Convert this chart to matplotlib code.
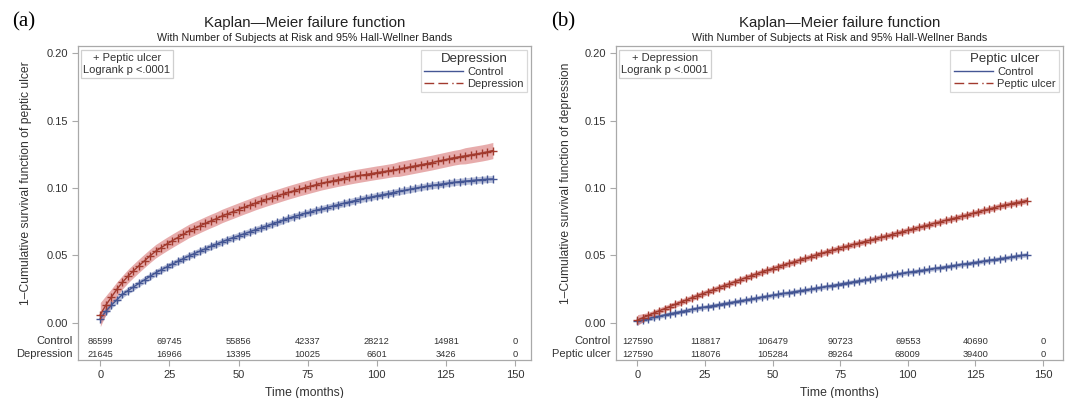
import numpy as np
import matplotlib
matplotlib.use("Agg")
import matplotlib.pyplot as plt
from matplotlib.lines import Line2D
import matplotlib.transforms as mtransforms

plt.rcParams['font.family'] = ['Liberation Sans', 'DejaVu Sans']

# ---------------- data ----------------
t_a = np.arange(0, 143, 2)
a_control = [0.003, 0.0085, 0.013, 0.017, 0.021, 0.0238, 0.0265, 0.0292, 0.0318, 0.0344,
             0.037, 0.0392, 0.0413, 0.0434, 0.0455, 0.0475, 0.0495, 0.0513, 0.0531, 0.0549,
             0.0566, 0.0583, 0.0600, 0.0617, 0.0631, 0.0645, 0.066, 0.0674, 0.0689, 0.0703,
             0.0717, 0.0731, 0.0745, 0.0759, 0.0775, 0.0788, 0.0799, 0.0811, 0.0822, 0.0834,
             0.0845, 0.0855, 0.0865, 0.0876, 0.0886, 0.0896, 0.0906, 0.0916, 0.0925, 0.0933,
             0.0942, 0.095, 0.0958, 0.0966, 0.0974, 0.0982, 0.099, 0.0998, 0.1006, 0.1013,
             0.1019, 0.1025, 0.1031, 0.1037, 0.1042, 0.1047, 0.1051, 0.1055, 0.1059, 0.1062,
             0.1065, 0.1067]
a_depression = [0.006, 0.013, 0.019, 0.0248, 0.030, 0.0345, 0.0385, 0.0423, 0.046, 0.0496,
                0.053, 0.0557, 0.0583, 0.0608, 0.0632, 0.0656, 0.068, 0.0699, 0.0718, 0.0737,
                0.0755, 0.0772, 0.0792, 0.0808, 0.0824, 0.084, 0.0856, 0.0871, 0.0887, 0.0901,
                0.0915, 0.0928, 0.0941, 0.0954, 0.0967, 0.0979, 0.0991, 0.1002, 0.1013, 0.1024,
                0.1035, 0.1044, 0.1053, 0.1062, 0.107, 0.1078, 0.1086, 0.1093, 0.11, 0.1107,
                0.1114, 0.112, 0.1127, 0.1134, 0.1141, 0.1149, 0.1157, 0.1165, 0.1173, 0.1181,
                0.1189, 0.1198, 0.1207, 0.1216, 0.1225, 0.1232, 0.1239, 0.1246, 0.1253, 0.126,
                0.1268, 0.1278]
a_control_hw = [0.0035, 0.003] + [0.0025] * 70
a_depression_hw = [0.009, 0.007, 0.006, 0.0055] + [0.005] * 50 + [0.0055] * 12 + [0.006] * 6

t_b = np.arange(0, 145, 2)
b_control = [0.001, 0.002, 0.003, 0.0039, 0.0048, 0.0057, 0.0066, 0.0074, 0.0082, 0.009,
             0.0098, 0.0106, 0.0113, 0.012, 0.0127, 0.0134, 0.0141, 0.0148, 0.0155, 0.0162,
             0.0169, 0.0176, 0.0183, 0.019, 0.0197, 0.0204, 0.021, 0.0217, 0.0223, 0.023,
             0.0236, 0.0243, 0.0249, 0.0256, 0.0262, 0.0269, 0.0276, 0.0283, 0.029, 0.0297,
             0.0304, 0.0311, 0.0318, 0.0325, 0.0332, 0.0339, 0.0346, 0.0353, 0.036, 0.0367,
             0.0373, 0.0379, 0.0385, 0.0391, 0.0397, 0.0403, 0.0409, 0.0415, 0.0421, 0.0427,
             0.0433, 0.0439, 0.0445, 0.0451, 0.0457, 0.0463, 0.0469, 0.0475, 0.0481, 0.0487,
             0.0493, 0.0499, 0.0505]
b_peptic = [0.002, 0.0037, 0.0054, 0.0071, 0.0088, 0.0104, 0.0120, 0.0136, 0.0152, 0.0168,
            0.0184, 0.0199, 0.0214, 0.0229, 0.0244, 0.0259, 0.0274, 0.0289, 0.0304, 0.0319,
            0.0334, 0.0348, 0.0362, 0.0376, 0.0390, 0.0402, 0.0415, 0.0427, 0.044, 0.0452,
            0.0465, 0.0477, 0.049, 0.0502, 0.0514, 0.0526, 0.0538, 0.055, 0.0560, 0.0571,
            0.0581, 0.0592, 0.0602, 0.0612, 0.0623, 0.0633, 0.0644, 0.0654, 0.0665, 0.0675,
            0.0686, 0.0697, 0.0707, 0.0718, 0.0728, 0.0739, 0.0749, 0.0760, 0.0770, 0.0780,
            0.0790, 0.0800, 0.0811, 0.0822, 0.0833, 0.0843, 0.0854, 0.0865, 0.0874, 0.0883,
            0.0891, 0.0898, 0.0907]
b_control_hw = [0.002] + [0.0017] * 72
b_peptic_hw = [0.004, 0.003] + [0.0022] * 71

risk_times = [0, 25, 50, 75, 100, 125, 150]
a_risk_control = [86599, 69745, 55856, 42337, 28212, 14981, 0]
a_risk_depression = [21645, 16966, 13395, 10025, 6601, 3426, 0]
b_risk_control = [127590, 118817, 106479, 90723, 69553, 40690, 0]
b_risk_peptic = [127590, 118076, 105284, 89264, 68009, 39400, 0]

y_ticks = [0.00, 0.05, 0.10, 0.15, 0.20]
x_ticks = [0, 25, 50, 75, 100, 125, 150]

# ---------------- style ----------------
BLUE = '#445694'
RED = '#A23A2E'
BLUE_FILL = '#6F7EB3'
RED_FILL = '#D05B5B'
FRAME = '#a9a9a9'
TXT = '#333333'

W, H = 1067, 398
fig = plt.figure(figsize=(W / 100, H / 100), dpi=100)

AX_TOP, AX_BOT = 46, 360


def px_axes(x0, x1, y0, y1):
    return fig.add_axes([x0 / W, 1 - y1 / H, (x1 - x0) / W, (y1 - y0) / H])


def panel(ax, x0px, x1px, ylab_px, xlim, t1, y1, hw1, t2, y2, hw2, r1, r2, names,
          leg_title, box_text, ylabel):
    ax.set_xlim(*xlim)
    ax.set_ylim(-0.0277, 0.2054)
    for s in ax.spines.values():
        s.set_color(FRAME)
        s.set_linewidth(0.9)
    ax.set_yticks(y_ticks)
    ax.set_yticklabels([f"{v:.2f}" for v in y_ticks])
    ax.set_xticks(x_ticks)
    ax.tick_params(direction='out', length=4, width=0.8, color=FRAME,
                   labelsize=8, labelcolor=TXT, pad=3)
    ax.set_xlabel('Time (months)', fontsize=8.8, color=TXT, labelpad=5)
    ax.set_ylabel(ylabel, fontsize=8.7, color=TXT)
    ax.yaxis.set_label_coords((ylab_px - x0px) / (x1px - x0px),
                              (AX_BOT - 183) / (AX_BOT - AX_TOP))

    y1 = np.array(y1); y2 = np.array(y2)
    hw1 = np.array(hw1); hw2 = np.array(hw2)
    ax.fill_between(t1, y1 - hw1, y1 + hw1, color=BLUE_FILL, alpha=0.45, lw=0)
    ax.fill_between(t2, y2 - hw2, y2 + hw2, color=RED_FILL, alpha=0.5, lw=0)
    ax.plot(t1, y1, color=BLUE, lw=1.0, marker='+', ms=6, mew=1.0)
    ax.plot(t2, y2, color=RED, lw=1.0, marker='+', ms=6, mew=1.0)

    # at-risk table
    rows_y = [-0.0139, -0.0233]
    trans = mtransforms.blended_transform_factory(ax.transAxes, ax.transData)
    for vals, yy, nm in zip([r1, r2], rows_y, names):
        for tt, n in zip(risk_times, vals):
            ax.text(tt, yy, str(n), ha='center', va='center', fontsize=6.7, color=TXT)
        ax.text(-0.011, yy, nm, ha='right', va='center', fontsize=8, color=TXT,
                transform=trans)

    handles = [Line2D([], [], color=BLUE, lw=1.0),
               Line2D([], [], color=RED, lw=1.0, dashes=(7, 3, 7, 3, 1, 2))]
    leg = ax.legend(handles, names, title=leg_title, loc='upper right',
                    fontsize=8, title_fontsize=9.5, frameon=True, fancybox=False,
                    borderaxespad=0.35, handlelength=3.5, handletextpad=0.4,
                    labelspacing=0.15, borderpad=0.3)
    leg.get_frame().set_edgecolor('#cfcfcf')
    leg.get_frame().set_linewidth(0.9)
    for txt in leg.get_texts():
        txt.set_color(TXT)
    leg.get_title().set_color(TXT)

    ax.text(0.012, 0.977, box_text, transform=ax.transAxes, ha='left', va='top',
            multialignment='center', fontsize=8, color=TXT, linespacing=1.25,
            bbox=dict(boxstyle='square,pad=0.25', fc='white', ec='#cfcfcf', lw=0.9))


axA = px_axes(78, 531, AX_TOP, AX_BOT)
axB = px_axes(616, 1063, AX_TOP, AX_BOT)

panel(axA, 78, 531, 32, (-8.07, 155.8), t_a, a_control, a_control_hw, t_a, a_depression,
      a_depression_hw, a_risk_control, a_risk_depression, ['Control', 'Depression'],
      'Depression', '+ Peptic ulcer\nLogrank p <.0001',
      '1\u2013Cumulative survival function of peptic ulcer')
panel(axB, 616, 1063, 572, (-7.95, 157.4), t_b, b_control, b_control_hw, t_b, b_peptic,
      b_peptic_hw, b_risk_control, b_risk_peptic, ['Control', 'Peptic ulcer'],
      'Peptic ulcer', '+ Depression\nLogrank p <.0001',
      '1\u2013Cumulative survival function of depression')

for cx in [304.5, 839.5]:
    fig.text(cx / W, 1 - 23 / H, 'Kaplan\u2014Meier failure function', ha='center',
             va='center', fontsize=10.8, color='#222222')
    fig.text(cx / W, 1 - 38 / H, 'With Number of Subjects at Risk and 95% Hall-Wellner Bands',
             ha='center', va='center', fontsize=7.7, color='#222222')

fig.text(24 / W, 1 - 22 / H, '(a)', ha='center', va='center', fontsize=15,
         family=['Liberation Serif', 'DejaVu Serif'], color='black')
fig.text(563 / W, 1 - 22 / H, '(b)', ha='center', va='center', fontsize=15,
         family=['Liberation Serif', 'DejaVu Serif'], color='black')

fig.savefig('out.png', dpi=100, facecolor='white')
